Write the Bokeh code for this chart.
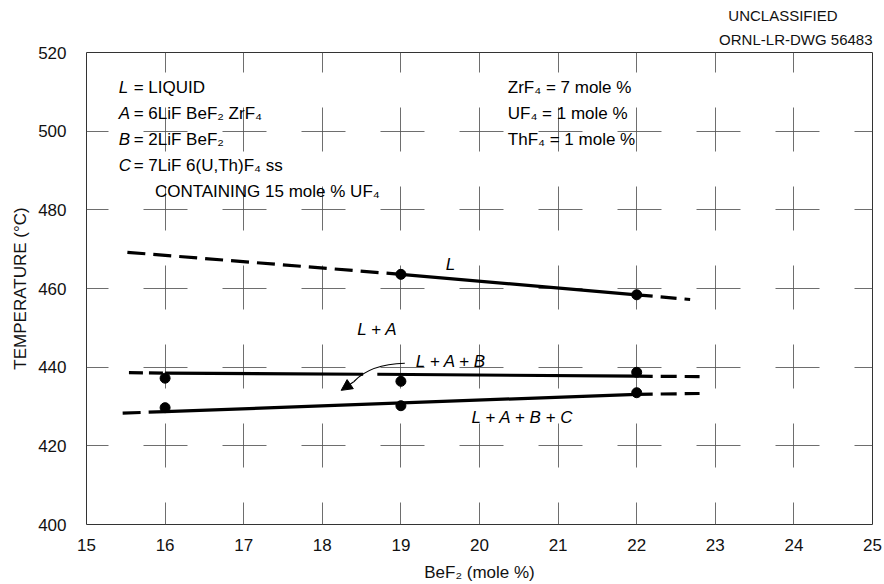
from bokeh.plotting import figure
from bokeh.models import Arrow, NormalHead, Title
from bokeh.core.properties import value
from bokeh.embed import file_html
from bokeh.resources import INLINE

# ---------------- data ----------------
x_ticks = [15, 16, 17, 18, 19, 20, 21, 22, 23, 24, 25]
y_ticks = [400, 420, 440, 460, 480, 500, 520]

# phase boundary curves (BeF2 mole %, temperature C)
# liquidus and L+A+B+C: dashed, solid, dashed segments
liq_x = [15.52, 19.0, 22.0, 22.68]
liq_t = [469.2, 463.6, 458.4, 457.2]
labc_x = [15.46, 16.0, 22.0, 22.8]
labc_t = [428.3, 428.7, 433.1, 433.3]
# L+A+B: dashed, solid, (gap where the arrow crosses), solid, dashed
lab_x = [15.54, 16.0, 18.52, 18.70, 22.0, 22.8]
lab_t = [438.6, 438.5, 438.2, 438.2, 437.7, 437.6]

# measured points
liq_pts_x = [19, 22]
liq_pts_t = [463.6, 458.4]
lab_pts_x = [16, 19, 22]
lab_pts_t = [437.2, 436.4, 438.7]
labc_pts_x = [16, 19, 22]
labc_pts_t = [429.7, 430.2, 433.5]

# texts
legend_syms = ["L", "A", "B", "C"]
legend_defs = ["= LIQUID", "= 6LiF  BeF\u2082 ZrF\u2084", "= 2LiF  BeF\u2082", "= 7LiF  6(U,Th)F\u2084 ss"]
legend_note = "CONTAINING 15 mole % UF\u2084"
composition = ["ZrF\u2084 = 7 mole %", "UF\u2084 = 1 mole %", "ThF\u2084 = 1 mole %"]
region_labels = ["L", "L + A", "L + A + B", "L + A + B + C"]
header = ["UNCLASSIFIED", "ORNL-LR-DWG 56483"]

# label positions (data coords)
legend_rows_t = [511.1, 504.5, 497.9, 491.3, 484.7]
region_x = [19.63, 18.70, 19.64, 20.55]
region_t = [466.0, 449.6, 441.4, 427.3]

FONT = "Liberation Sans"

p = figure(width=884, height=584, x_range=(15, 25), y_range=(400, 520),
           output_backend="svg", toolbar_location=None,
           min_border_left=86, min_border_right=12, min_border_top=52, min_border_bottom=60)
p.background_fill_color = "white"
p.border_fill_color = "white"
p.outline_line_color = "#333333"
p.outline_line_width = 1

for ax in (p.xaxis, p.yaxis):
    ax.axis_line_color = None
    ax.major_tick_line_color = None
    ax.minor_tick_line_color = None
    ax.major_label_text_font = FONT
    ax.major_label_text_font_size = "17px"
    ax.major_label_text_color = "#111111"
    ax.axis_label_text_font = FONT
    ax.axis_label_text_font_size = "17px"
    ax.axis_label_text_font_style = "normal"
    ax.axis_label_text_color = "#111111"

p.xaxis.ticker = x_ticks
p.yaxis.ticker = y_ticks
p.xaxis.major_label_standoff = 8
p.yaxis.major_label_standoff = 14
p.xaxis.axis_label = "BeF\u2082 (mole %)"
p.yaxis.axis_label = "TEMPERATURE (\u00b0C)"
p.xaxis.axis_label_standoff = 9
p.yaxis.axis_label_standoff = 5

for g in (p.xgrid, p.ygrid):
    g.grid_line_color = "#555555"
    g.grid_line_width = 1
    g.grid_line_alpha = 0.85
    g.grid_line_dash = "44 35"
    g.grid_line_dash_offset = 22

# header as titles above the frame (the added title sits nearest the frame)
p.title.text = header[0]
p.title.align = "right"
p.title.offset = 35
p.title.standoff = 0
p.title.text_font = FONT
p.title.text_font_size = "15px"
p.title.text_font_style = "normal"
p.title.text_color = "#111111"
p.title.text_line_height = 0.45
p.add_layout(Title(text=header[1], align="right", standoff=10,
                   text_font=FONT, text_font_size="15px", text_font_style="normal",
                   text_color="#111111"), "above")

LW = 3.2
# liquidus and L+A+B+C curves
for cx, ct in ((liq_x, liq_t), (labc_x, labc_t)):
    p.line(cx[0:2], ct[0:2], line_color="black", line_width=LW, line_dash="18 8")
    p.line(cx[1:3], ct[1:3], line_color="black", line_width=LW)
    p.line(cx[2:4], ct[2:4], line_color="black", line_width=LW, line_dash="16 8")
# L+A+B curve
p.line(lab_x[0:2], lab_t[0:2], line_color="black", line_width=LW, line_dash="14 6")
p.line(lab_x[1:3], lab_t[1:3], line_color="black", line_width=LW)
p.line(lab_x[3:5], lab_t[3:5], line_color="black", line_width=LW)
p.line(lab_x[4:6], lab_t[4:6], line_color="black", line_width=LW, line_dash="16 8")

# points
for px, pt in ((liq_pts_x, liq_pts_t), (lab_pts_x, lab_pts_t), (labc_pts_x, labc_pts_t)):
    p.scatter(px, pt, size=10, color="black")

# region labels
p.text(x=region_x, y=region_t, text=region_labels, text_font=value(FONT),
       text_font_size="17px", text_font_style="italic", text_align="center",
       text_baseline="middle", text_color="black")

# arrow from "L + A + B" to the boundary
p.quadratic(x0=[19.05], y0=[441.0], x1=[18.40], y1=[436.3], cx=[18.61], cy=[440.8],
            line_color="black", line_width=1.2)
p.add_layout(Arrow(x_start=18.40, y_start=436.3, x_end=18.24, y_end=434.1,
                   line_color="black", line_width=1.2,
                   end=NormalHead(size=11, fill_color="black", line_color="black")))

# legend block
p.text(x=[15.41] * 4, y=legend_rows_t[:4], text=legend_syms, text_font=value(FONT),
       text_font_size="17px", text_font_style="italic", text_align="left",
       text_baseline="middle", text_color="black")
p.text(x=[15.60] * 4, y=legend_rows_t[:4], text=legend_defs, text_font=value(FONT),
       text_font_size="17px", text_align="left", text_baseline="middle", text_color="black")
p.text(x=[15.87], y=[legend_rows_t[4]], text=[legend_note], text_font=value(FONT),
       text_font_size="17px", text_align="left", text_baseline="middle", text_color="black")
p.text(x=[20.36] * 3, y=legend_rows_t[:3], text=composition, text_font=value(FONT),
       text_font_size="17px", text_align="left", text_baseline="middle", text_color="black")

open("out.html", "w").write(file_html(p, INLINE))
